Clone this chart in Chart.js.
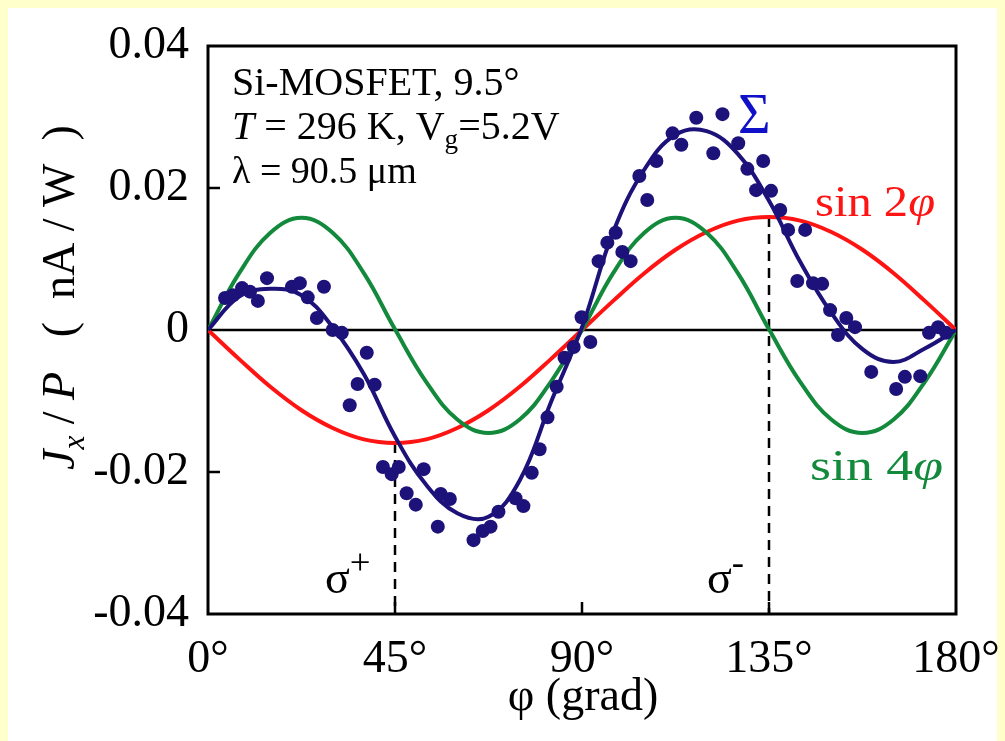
<!DOCTYPE html>
<html>
<head>
<meta charset="utf-8">
<style>
  html, body { margin: 0; padding: 0; background: #ffffcc; }
  #wrap { position: absolute; left: 0; top: 0; width: 1005px; height: 741px; }
</style>
</head>
<body>
<div id="wrap"><canvas id="myChart" width="1005" height="741"></canvas></div>
<script src="https://cdn.jsdelivr.net/npm/chart.js"></script>
<script>
var curveAngles = [0, 7.5, 15, 22.5, 30, 37.5, 45, 52.5, 60, 67.5, 75, 82.5, 90,
  97.5, 105, 112.5, 120, 127.5, 135, 142.5, 150, 157.5, 165, 172.5, 180];
var sigmaFit = [0, 0.0047, 0.0058, 0.0049, 0.0004, -0.0062, -0.0150, -0.0218, -0.0258, -0.0263,
  -0.0212, -0.0102, 0.0004, 0.0138, 0.0226, 0.0275, 0.0280, 0.0248, 0.0182, 0.0096,
  0.0024, -0.0027, -0.0045, -0.0026, 0];
var sin2Fit = [0, -0.0041, -0.0080, -0.0113, -0.0138, -0.0154, -0.0159, -0.0154, -0.0138, -0.0113,
  -0.0080, -0.0041, 0, 0.0041, 0.0080, 0.0113, 0.0138, 0.0154, 0.0159, 0.0154,
  0.0138, 0.0113, 0.0080, 0.0041, 0];
var sin4Fit = [0, 0.0080, 0.0137, 0.0158, 0.0137, 0.0080, 0.0001, -0.0073, -0.0126, -0.0145,
  -0.0126, -0.0073, 0, 0.0080, 0.0137, 0.0158, 0.0137, 0.0080, 0.0001, -0.0073,
  -0.0126, -0.0145, -0.0126, -0.0073, 0];

// measured points
var dotAngles = [4.1, 6.0, 8.2, 10.1, 12.0, 14.2, 20.2, 22.1, 24.0, 26.2, 27.9, 30.0, 32.2, 34.1, 36.0,
  38.2, 40.1, 42.1, 44.2, 45.9, 47.8, 50.0, 51.9, 55.3, 56.0, 58.2, 63.9, 66.1, 68.0, 69.9,
  74.0, 75.9, 77.9, 79.8, 81.7, 83.9, 85.8, 88.0, 89.9, 92.0, 94.0, 96.1, 98.1, 99.7, 101.7,
  103.8, 105.7, 107.9, 111.8, 113.9, 117.5, 121.6, 123.8, 127.6, 129.8, 131.9, 133.6, 135.5, 137.7, 139.6,
  143.7, 141.8, 145.6, 147.8, 149.7, 151.6, 153.6, 155.7, 159.6, 165.6, 167.7, 171.4, 173.5, 175.7, 177.6];
var dotValues = [0.0045, 0.0049, 0.0059, 0.0054, 0.0041, 0.0073, 0.0061, 0.0066, 0.0046, 0.0017, 0.0061, 0.0000, -0.0004, -0.0106, -0.0076,
  -0.0032, -0.0077, -0.0193, -0.0203, -0.0193, -0.0230, -0.0246, -0.0196, -0.0277, -0.0231, -0.0238, -0.0296, -0.0283, -0.0277, -0.0256,
  -0.0237, -0.0248, -0.0201, -0.0168, -0.0123, -0.0080, -0.0039, -0.0024, 0.0018, -0.0017, 0.0097, 0.0123, 0.0137, 0.0110, 0.0097,
  0.0217, 0.0183, 0.0238, 0.0277, 0.0261, 0.0299, 0.0249, 0.0304, 0.0263, 0.0227, 0.0197, 0.0238, 0.0196, 0.0169, 0.0141,
  0.0141, 0.0069, 0.0066, 0.0065, 0.0028, -0.0007, 0.0017, 0.0004, -0.0059, -0.0083, -0.0066, -0.0065, -0.0004, 0.0004, -0.0004];

var xTicks = [0, 45, 90, 135, 180];
var yTicks = [-0.04, -0.02, 0, 0.02, 0.04];
var yTickLabels = ["-0.04", "-0.02", "0", "0.02", "0.04"];
var markerAngles = [45, 135];
var markerTops = [-0.0159, 0.0159];

var NAVY = "#1c1279";
var RED = "#ff1414";
var GREEN = "#12893b";
var SERIF = "'Liberation Serif', 'Times New Roman', serif";

function pairs(xs, ys) {
  return xs.map(function (x, i) { return { x: x, y: ys[i] }; });
}

function fontFor(p, size) {
  var s = p.sub ? size * 0.68 : (p.sup ? size * 0.8 : size);
  return (p.i ? "italic " : "") + s + "px " + SERIF;
}

// draws mixed style text; parts = [{t, i, sub, sup}]
function drawRich(ctx, parts, x, y, size, color, width, align) {
  var total = 0;
  var widths = [];
  parts.forEach(function (p) {
    ctx.font = fontFor(p, size);
    var w = ctx.measureText(p.t).width;
    widths.push(w);
    total += w;
  });
  var sx = width ? width / total : 1;
  ctx.save();
  ctx.translate(x, y);
  ctx.scale(sx, 1);
  if (align === "center") ctx.translate(-total / 2, 0);
  ctx.fillStyle = color;
  ctx.textBaseline = "alphabetic";
  ctx.textAlign = "left";
  var cx = 0;
  parts.forEach(function (p, k) {
    ctx.font = fontFor(p, size);
    var dy = p.sub ? size * 0.22 : (p.sup ? -size * 0.42 : 0);
    ctx.fillText(p.t, cx, dy);
    cx += widths[k];
  });
  ctx.restore();
}

var framePlugin = {
  id: "frame",
  beforeDraw: function (chart) {
    var ctx = chart.ctx;
    ctx.save();
    ctx.fillStyle = "#ffffcc";
    ctx.fillRect(0, 0, chart.width, chart.height);
    ctx.fillStyle = "#ffffff";
    ctx.fillRect(8, 8, 989, 733);
    ctx.restore();
  },
  beforeDatasetsDraw: function (chart) {
    var ctx = chart.ctx;
    var a = chart.chartArea;
    var xs = chart.scales.x, ys = chart.scales.y;
    ctx.save();
    ctx.strokeStyle = "#000";
    ctx.lineWidth = 3;
    ctx.strokeRect(a.left, a.top, a.right - a.left, a.bottom - a.top);
    ctx.lineWidth = 2.5;
    ctx.beginPath();
    [45, 90, 135].forEach(function (v) {
      var px = xs.getPixelForValue(v);
      ctx.moveTo(px, a.bottom);
      ctx.lineTo(px, a.bottom - 12);
    });
    [-0.02, 0.02].forEach(function (v) {
      var py = ys.getPixelForValue(v);
      ctx.moveTo(a.left, py);
      ctx.lineTo(a.left + 12, py);
    });
    ctx.stroke();
    ctx.restore();
  },
  afterDatasetsDraw: function (chart) {
    var ctx = chart.ctx;
    drawRich(ctx, [{ t: "Si-MOSFET, 9.5°" }], 232, 95, 40, "#000");
    drawRich(ctx, [{ t: "T", i: true }, { t: " = 296 K, V" }, { t: "g", sub: true }, { t: "=5.2V" }], 232, 139, 40, "#000");
    drawRich(ctx, [{ t: "λ = 90.5 μm" }], 232, 183, 38, "#000");
    drawRich(ctx, [{ t: "Σ" }], 738, 133, 56, "#1010c8");
    drawRich(ctx, [{ t: "sin 2" }, { t: "φ", i: true }], 815, 216, 44, RED, 120);
    drawRich(ctx, [{ t: "sin 4" }, { t: "φ", i: true }], 810, 480, 44, GREEN, 133);
    drawRich(ctx, [{ t: "σ" }, { t: "+", sup: true }], 325, 593, 46, "#000");
    drawRich(ctx, [{ t: "σ" }, { t: "-", sup: true }], 707, 593, 46, "#000");
    drawRich(ctx, [{ t: "φ (grad)" }], 583, 710, 46, "#000", 0, "center");
    ctx.save();
    ctx.translate(74, 470);
    ctx.rotate(-Math.PI / 2);
    drawRich(ctx, [{ t: "J", i: true }, { t: "x", i: true, sub: true }, { t: " / " }, { t: "P", i: true }, { t: "   (  nA / W  )" }], 0, 0, 46, "#000");
    ctx.restore();
  }
};

var datasets = [
  {
    label: "data",
    data: pairs(dotAngles, dotValues),
    showLine: false,
    pointRadius: 7,
    pointBackgroundColor: NAVY,
    pointBorderWidth: 0
  },
  {
    label: "Σ",
    data: pairs(curveAngles, sigmaFit),
    showLine: true,
    borderColor: NAVY,
    borderWidth: 4,
    pointRadius: 0,
    tension: 0.4
  },
  {
    label: "sin 4φ",
    data: pairs(curveAngles, sin4Fit),
    showLine: true,
    borderColor: GREEN,
    borderWidth: 4,
    pointRadius: 0,
    tension: 0.4
  },
  {
    label: "sin 2φ",
    data: pairs(curveAngles, sin2Fit),
    showLine: true,
    borderColor: RED,
    borderWidth: 4,
    pointRadius: 0,
    tension: 0.4
  },
  {
    label: "zero",
    data: [{ x: 0, y: 0 }, { x: 180, y: 0 }],
    showLine: true,
    borderColor: "#000",
    borderWidth: 2.5,
    pointRadius: 0
  }
];
markerAngles.forEach(function (ang, i) {
  datasets.push({
    label: "marker" + i,
    data: [{ x: ang, y: markerTops[i] }, { x: ang, y: -0.04 }],
    showLine: true,
    borderColor: "#000",
    borderWidth: 2.5,
    borderDash: [10, 7],
    pointRadius: 0
  });
});

var config = {
  type: "scatter",
  data: { datasets: datasets },
  options: {
    responsive: false,
    animation: false,
    events: [],
    layout: { padding: { left: 0, top: 46, right: 49, bottom: 0 } },
    plugins: { legend: { display: false }, tooltip: { enabled: false } },
    scales: {
      x: {
        type: "linear",
        min: 0,
        max: 180,
        grid: { display: false, drawTicks: false },
        border: { display: false },
        afterBuildTicks: function (s) { s.ticks = xTicks.map(function (v) { return { value: v }; }); },
        afterFit: function (s) { s.height = 127; s.paddingLeft = 0; s.paddingRight = 0; },
        ticks: {
          padding: 18,
          maxRotation: 0,
          color: "#000",
          font: { family: SERIF, size: 46 },
          callback: function (v) { return v + "°"; }
        }
      },
      y: {
        type: "linear",
        min: -0.04,
        max: 0.04,
        grid: { display: false, drawTicks: false },
        border: { display: false },
        afterBuildTicks: function (s) { s.ticks = yTicks.map(function (v) { return { value: v }; }); },
        afterFit: function (s) { s.width = 208; s.paddingTop = 0; s.paddingBottom = 0; },
        ticks: {
          padding: 19,
          color: "#000",
          font: { family: SERIF, size: 46 },
          callback: function (v, i) { return yTickLabels[i]; }
        }
      }
    }
  },
  plugins: [framePlugin]
};

const myChart = new Chart(document.getElementById("myChart"), config);
</script>
</body>
</html>
